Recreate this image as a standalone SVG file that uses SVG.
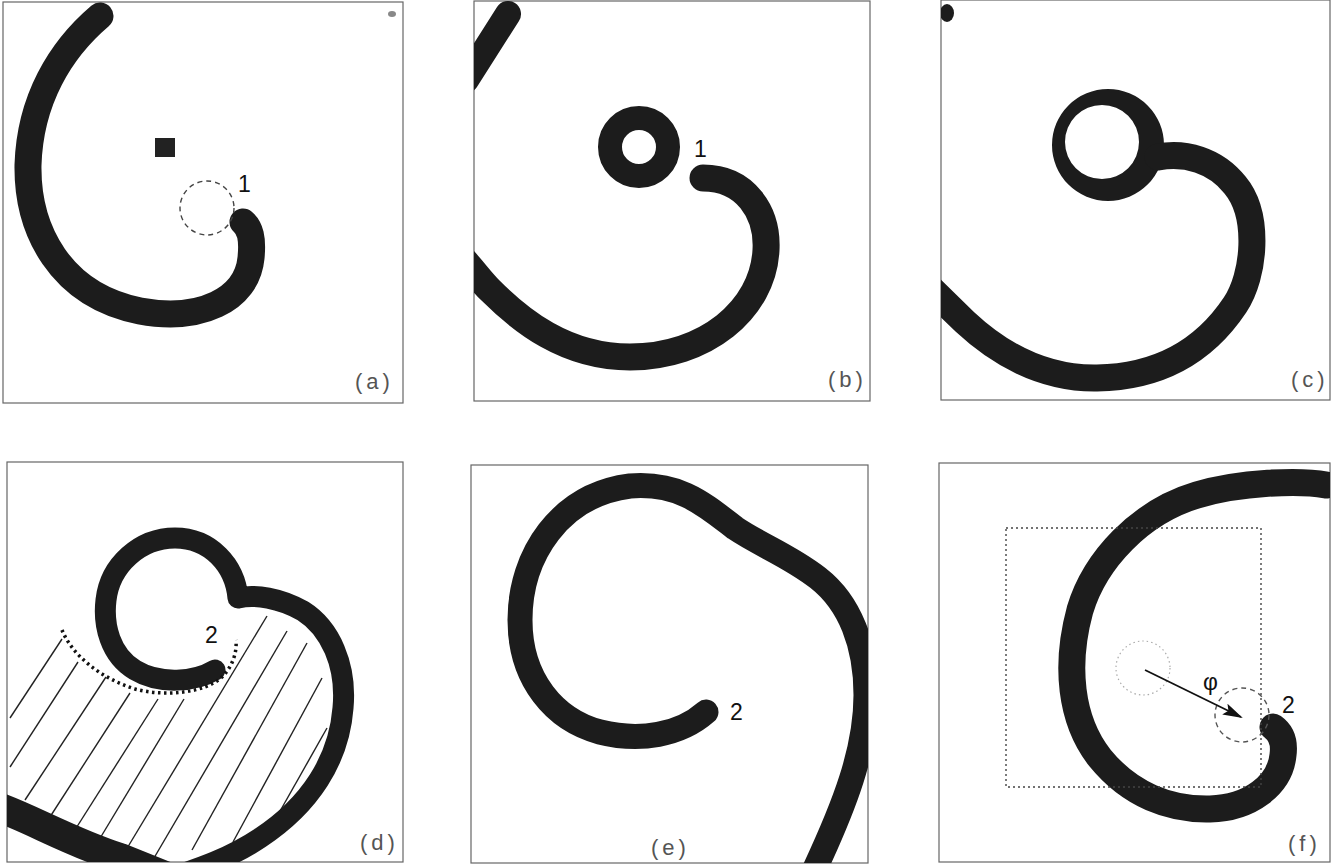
<svg xmlns="http://www.w3.org/2000/svg" width="1338" height="865" viewBox="0 0 1338 865">
<style>
.frame{fill:none;stroke:#666;stroke-width:1.2}
.body{fill:none;stroke:#1c1c1c;stroke-linecap:round;stroke-linejoin:round}
.num{font-family:"Liberation Sans",Arial,sans-serif;font-size:23px;fill:#111}
.lab{font-family:"Liberation Sans",Arial,sans-serif;font-size:22px;fill:#555;letter-spacing:4px}
.hatch{stroke:#222;stroke-width:1.4;fill:none}
</style>
<defs>
<clipPath id="ca"><rect x="3" y="2" width="400" height="401"/></clipPath>
<clipPath id="cb"><rect x="474" y="1" width="396" height="400"/></clipPath>
<clipPath id="cc"><rect x="941" y="0" width="389" height="400"/></clipPath>
<clipPath id="cd"><rect x="7" y="462" width="396" height="400"/></clipPath>
<clipPath id="ce"><rect x="471" y="465" width="397" height="398"/></clipPath>
<clipPath id="cf"><rect x="939" y="463" width="391" height="399"/></clipPath>
<marker id="ah" viewBox="0 0 20 12" refX="18" refY="6" markerWidth="20" markerHeight="12" markerUnits="userSpaceOnUse" orient="auto">
<path d="M0,0 L20,6 L0,12 L4,6 Z" fill="#111"/>
</marker>
</defs>

<g id="panel-a">
<rect class="frame" x="3" y="2" width="400" height="401"/>
<g clip-path="url(#ca)">
<path class="body" stroke-width="27" d="M100,16 C 60,50 30,100 28,165 C 27,230 60,295 140,311 C 200,322 247,300 251,258 C 253,238 250,228 243,222"/>
<rect x="155" y="138" width="20" height="19" fill="#222"/>
<circle cx="207" cy="208" r="27" fill="none" stroke="#444" stroke-width="1.4" stroke-dasharray="5 4"/>
<ellipse cx="392" cy="14" rx="4" ry="3" fill="#888"/>
</g>
<text class="num" x="238" y="192">1</text>
<text class="lab" x="355" y="389">(a)</text>
</g>

<g id="panel-b">
<rect class="frame" x="474" y="1" width="396" height="400"/>
<g clip-path="url(#cb)">
<path class="body" stroke-width="26" d="M508,14 L466,80"/>
<circle cx="639" cy="147" r="29" fill="none" stroke="#1c1c1c" stroke-width="24"/>
<path class="body" stroke-width="27" d="M703,178 C 745,178 768,212 766,250 C 763,310 705,357 630,357 C 565,357 520,320 490,290 C 480,280 475,272 462,258"/>
</g>
<text class="num" x="694" y="157">1</text>
<text class="lab" x="828" y="387">(b)</text>
</g>

<g id="panel-c">
<rect class="frame" x="941" y="0" width="389" height="400"/>
<g clip-path="url(#cc)">
<ellipse cx="947" cy="13" rx="7" ry="9" fill="#1c1c1c"/>
<path fill="#1c1c1c" fill-rule="evenodd" d="M1052,145 a56,56 0 1,0 112,0 a56,56 0 1,0 -112,0 Z M1065,142 a37,37 0 1,0 74,0 a37,37 0 1,0 -74,0 Z"/>
<path class="body" stroke-width="27" d="M1158,157 C 1185,152 1215,160 1235,185 C 1260,215 1255,275 1235,305 C 1205,350 1160,377 1097,378 C 1040,379 995,350 965,322 L 930,288"/>
</g>
<text class="lab" x="1291" y="387">(c)</text>
</g>

<g id="panel-d">
<rect class="frame" x="7" y="462" width="396" height="400"/>
<g clip-path="url(#cd)">
<g class="hatch">
<line x1="62" y1="639" x2="10" y2="718"/>
<line x1="78" y1="662" x2="10" y2="767"/>
<line x1="106" y1="677" x2="25" y2="800"/>
<line x1="130" y1="693" x2="48" y2="820"/>
<line x1="158" y1="699" x2="73" y2="833"/>
<line x1="184" y1="699" x2="99" y2="840"/>
<line x1="267" y1="616" x2="126" y2="850"/>
<line x1="287" y1="631" x2="154" y2="858"/>
<line x1="307" y1="643" x2="192" y2="850"/>
<line x1="322" y1="678" x2="233" y2="842"/>
<line x1="327" y1="728" x2="279" y2="813"/>
</g>
<path class="body" stroke-width="21" d="M215,670 C 195,682 160,685 135,670 C 110,655 103,625 106,600 C 110,565 140,538 175,538 C 210,538 235,565 238,598 C 255,594 280,598 303,611 C 330,628 347,665 343,708 C 339,760 310,805 260,838 C 230,858 200,868 170,878"/>
<path class="body" stroke-width="30" d="M-5,806 C 30,818 70,842 120,858 L 175,880"/>
<path fill="none" stroke="#111" stroke-width="3.5" stroke-dasharray="2.5 3.5" d="M62,630 C 72,655 100,678 135,689 C 165,697 205,693 222,677 C 233,666 237,652 236,640"/>
</g>
<text class="num" x="205" y="643">2</text>
<text class="lab" x="360" y="850">(d)</text>
</g>

<g id="panel-e">
<rect class="frame" x="471" y="465" width="397" height="398"/>
<g clip-path="url(#ce)">
<path class="body" stroke-width="25" d="M706,712 C 680,735 640,742 600,732 C 555,720 520,680 520,620 C 520,555 560,495 630,486 C 680,482 705,505 735,528 C 760,545 790,556 818,578 C 850,603 866,645 866,695 C 866,750 845,805 812,875"/>
</g>
<text class="num" x="730" y="720">2</text>
<text class="lab" x="651" y="855">(e)</text>
</g>

<g id="panel-f">
<rect class="frame" x="939" y="463" width="391" height="399"/>
<g clip-path="url(#cf)">
<path class="body" stroke-width="27" d="M1326,485 C 1300,480 1240,482 1197,495 C 1140,512 1095,560 1080,610 C 1065,665 1070,720 1100,758 C 1130,795 1170,810 1210,809 C 1250,808 1280,785 1283,755 C 1285,740 1280,732 1273,727"/>
<rect x="1006" y="528" width="255" height="259" fill="none" stroke="#444" stroke-width="1.4" stroke-dasharray="2 3"/>
<circle cx="1143" cy="668" r="27" fill="none" stroke="#aaa" stroke-width="1.2" stroke-dasharray="1.5 3"/>
<circle cx="1242" cy="715" r="27" fill="none" stroke="#555" stroke-width="1.4" stroke-dasharray="5 4"/>
</g>
<g id="connectors">
<line x1="1145" y1="670" x2="1241" y2="717" stroke="#111" stroke-width="1.8" marker-end="url(#ah)"/>
</g>
<text class="num" x="1203" y="690" font-size="24">φ</text>
<text class="num" x="1282" y="713">2</text>
<text class="lab" x="1288" y="851">(f)</text>
</g>
</svg>
